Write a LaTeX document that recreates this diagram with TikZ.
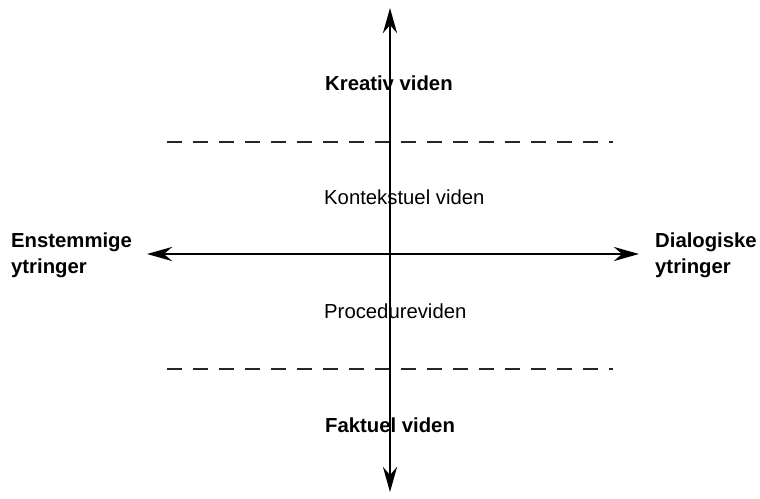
\documentclass[tikz,border=0pt]{standalone}
\usepackage{fontspec}
\setmainfont{Liberation Sans}
\usetikzlibrary{arrows.meta}
\begin{document}
\begin{tikzpicture}[x=1pt,y=-1pt,
  tip/.style={Stealth[length=25pt,width=14pt,inset=8pt]},
  axis/.style={line width=2.9pt,{Stealth[length=25pt,width=14pt,inset=8pt]}-{Stealth[length=25pt,width=14pt,inset=8pt]}},
  level/.style={line width=1.6pt,black!85,dash pattern=on 15pt off 11pt},
  zone/.style={anchor=base west,inner sep=0pt,font=\fontsize{20.3}{24}\selectfont},
  strong/.style={zone,font=\fontsize{20.3}{24}\selectfont\bfseries},
  pole/.style={anchor=north west,inner sep=0pt,align=left,font=\fontsize{20.3}{25.5}\selectfont\bfseries}]
  \useasboundingbox (0,0) rectangle (760,498);
  % axes end points
  \coordinate (top) at (390,8);
  \coordinate (bottom) at (390,492);
  \coordinate (left) at (147,254);
  \coordinate (right) at (639,254);
  % dashed level lines
  \coordinate (u1) at (167,142);
  \coordinate (u2) at (613,142);
  \coordinate (l1) at (167,369);
  \coordinate (l2) at (613,369);
  \draw[level] (u1) -- (u2);
  \draw[level] (l1) -- (l2);
  % zone labels
  \node[strong] (kreativ) at (325,90) {Kreativ viden};
  \node[zone] (kontekst) at (324,204) {Kontekstuel viden};
  \node[zone] (procedure) at (324,318) {Procedureviden};
  \node[strong] (faktuel) at (325,432) {Faktuel viden};
  % pole labels
  \node[pole] (enstemmige) at (11,233) {Enstemmige\\ytringer};
  \node[pole] (dialogiske) at (655,233) {Dialogiske\\ytringer};
  % axes
  \draw[axis] (bottom) -- (top);
  \draw[axis] (left) -- (right);
\end{tikzpicture}
\end{document}
